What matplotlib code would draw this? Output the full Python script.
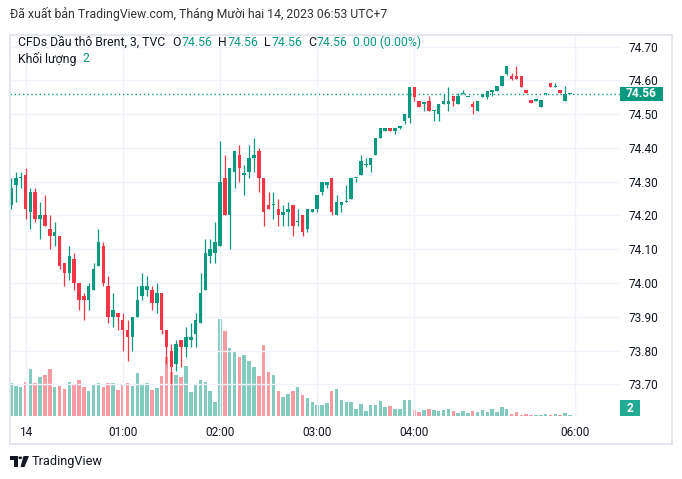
import numpy as np
import matplotlib
matplotlib.use("Agg")
import matplotlib.pyplot as plt
from matplotlib.patches import Rectangle, Circle, Polygon
from matplotlib.lines import Line2D

plt.rcParams['font.family'] = ['Roboto', 'DejaVu Sans']

# ---------------- data (3-minute bars, TVC Brent CFD) ----------------
opens = [74.23, 74.29, 74.31, 74.32, 74.21, 74.27, 74.19, 74.20, 74.16, 74.14,
         74.14, 74.06, 74.03, 74.07, 74.00, 73.96, 73.95, 73.98, 74.05, 74.11,
         73.99, 73.90, 73.91, 73.89, 73.86, 73.84, 73.90, 73.96, 73.98, 73.98,
         73.94, 73.97, 73.86, 73.80, 73.76, 73.83, 73.81, 73.83, 73.85, 73.88,
         73.98, 74.08, 74.09, 74.11, 74.31, 74.20, 74.33, 74.38, 74.32, 74.33,
         74.37, 74.39, 74.31, 74.23, 74.23, 74.22, 74.20, 74.21, 74.23, 74.18,
         74.20, 74.16, 74.21, 74.22, 74.27, 74.29, 74.31, 74.20, 74.23, 74.24,
         74.25, 74.31, 74.32, 74.35, 74.35, 74.38, 74.43, 74.45, 74.46, 74.45,
         74.46, 74.48, 74.49, 74.58, 74.54, 74.53, 74.54, 74.51, 74.50, 74.53,
         74.53, 74.555, 74.53, 74.56, 74.55, 74.53, 74.51, 74.55, 74.55, 74.565,
         74.57, 74.583, 74.62, 74.613, 74.613, 74.613, 74.572, 74.542, 74.54, 74.522,
         74.56, 74.591, 74.581, 74.572, 74.54, 74.56]
highs = [74.31, 74.33, 74.33, 74.34, 74.28, 74.28, 74.24, 74.26, 74.20, 74.18,
         74.14, 74.06, 74.11, 74.09, 74.00, 73.97, 74.00, 74.06, 74.16, 74.12,
         74.02, 73.97, 73.91, 73.91, 73.89, 73.90, 73.99, 74.03, 74.02, 73.99,
         74.00, 73.97, 73.86, 73.82, 73.83, 73.83, 73.87, 73.88, 73.91, 74.03,
         74.13, 74.13, 74.18, 74.42, 74.38, 74.34, 74.39, 74.41, 74.35, 74.41,
         74.43, 74.40, 74.31, 74.27, 74.27, 74.25, 74.23, 74.24, 74.23, 74.22,
         74.20, 74.22, 74.22, 74.26, 74.30, 74.30, 74.31, 74.26, 74.24, 74.29,
         74.31, 74.31, 74.38, 74.37, 74.37, 74.43, 74.46, 74.46, 74.46, 74.46,
         74.462, 74.50, 74.58, 74.58, 74.54, 74.535, 74.555, 74.512, 74.53, 74.56,
         74.58, 74.555, 74.562, 74.572, 74.552, 74.54, 74.54, 74.56, 74.57, 74.572,
         74.583, 74.613, 74.643, 74.621, 74.643, 74.613, 74.572, 74.542, 74.542, 74.542,
         74.562, 74.591, 74.591, 74.572, 74.583, 74.56]
lows = [74.22, 74.24, 74.28, 74.19, 74.16, 74.18, 74.13, 74.17, 74.10, 74.11,
        74.04, 73.99, 74.01, 73.98, 73.92, 73.89, 73.92, 73.98, 74.05, 73.99,
        73.88, 73.87, 73.86, 73.80, 73.77, 73.80, 73.90, 73.95, 73.96, 73.92,
        73.91, 73.85, 73.76, 73.70, 73.74, 73.75, 73.78, 73.81, 73.81, 73.88,
        73.98, 74.06, 74.06, 74.11, 74.20, 74.10, 74.28, 74.30, 74.26, 74.31,
        74.33, 74.27, 74.17, 74.22, 74.19, 74.17, 74.17, 74.17, 74.14, 74.17,
        74.14, 74.15, 74.21, 74.21, 74.26, 74.28, 74.20, 74.20, 74.21, 74.24,
        74.25, 74.30, 74.32, 74.345, 74.33, 74.38, 74.43, 74.45, 74.45, 74.44,
        74.455, 74.47, 74.475, 74.54, 74.52, 74.51, 74.51, 74.48, 74.48, 74.53,
        74.51, 74.525, 74.53, 74.56, 74.55, 74.50, 74.51, 74.55, 74.545, 74.555,
        74.57, 74.583, 74.616, 74.60, 74.603, 74.58, 74.562, 74.532, 74.54, 74.522,
        74.556, 74.581, 74.581, 74.562, 74.54, 74.56]
closes = [74.28, 74.31, 74.313, 74.22, 74.27, 74.19, 74.20, 74.17, 74.14, 74.15,
          74.05, 74.03, 74.08, 74.00, 73.95, 73.95, 73.99, 74.04, 74.12, 74.00,
          73.90, 73.92, 73.90, 73.86, 73.84, 73.90, 73.95, 73.99, 73.99, 73.94,
          73.97, 73.86, 73.81, 73.75, 73.82, 73.81, 73.84, 73.84, 73.89, 73.97,
          74.09, 74.10, 74.12, 74.30, 74.20, 74.34, 74.39, 74.34, 74.325, 74.37,
          74.38, 74.31, 74.21, 74.22, 74.232, 74.20, 74.21, 74.22, 74.17, 74.182,
          74.15, 74.22, 74.22, 74.26, 74.30, 74.30, 74.21, 74.24, 74.24, 74.243,
          74.31, 74.312, 74.36, 74.353, 74.37, 74.43, 74.46, 74.46, 74.45, 74.46,
          74.462, 74.50, 74.58, 74.55, 74.52, 74.535, 74.51, 74.512, 74.53, 74.54,
          74.54, 74.54, 74.555, 74.562, 74.552, 74.52, 74.54, 74.56, 74.57, 74.572,
          74.583, 74.613, 74.643, 74.603, 74.603, 74.581, 74.562, 74.532, 74.542, 74.542,
          74.562, 74.581, 74.583, 74.562, 74.56, 74.56]
volumes = [66, 60, 58, 68, 94, 66, 78, 82, 94, 58,
           60, 54, 68, 62, 72, 58, 50, 62, 66, 58,
           66, 66, 52, 62, 66, 60, 86, 62, 66, 52,
           56, 80, 118, 88, 82, 78, 100, 48, 62, 72,
           68, 50, 28, 194, 170, 136, 130, 118, 122, 110,
           98, 80, 142, 88, 82, 50, 38, 44, 50, 58,
           42, 36, 28, 22, 22, 26, 50, 54, 32, 28,
           28, 14, 24, 10, 22, 22, 30, 18, 20, 14,
           14, 32, 32, 12, 8, 12, 14, 12, 10, 12,
           14, 10, 6, 10, 6, 10, 8, 12, 8, 14,
           8, 18, 14, 4, 8, 2, 4, 2, 2, 2,
           4, 2, 4, 2, 6, 2]
first_bar = -3                      # first bar index relative to 00:00
tick_bars = [0, 20, 40, 60, 80, 113]
tick_labels = ['14', '01:00', '02:00', '03:00', '04:00', '06:00']
price_ticks = [73.70, 73.80, 73.90, 74.00, 74.10, 74.20, 74.30, 74.40, 74.50, 74.60, 74.70]
last_price = 74.56
last_volume = 2

# ---------------- style ----------------
W, H = 682, 479
GREEN = '#089981'
RED = '#f23645'
TXT = '#131722'
GRID = '#f0f3fa'
FS = 8.6

fig = plt.figure(figsize=(W / 100, H / 100), dpi=100)
fig.patch.set_facecolor('white')

def fx(x):
    return x / W

def fy(y):
    return 1 - y / H

pane = [fx(10), fy(416), (620 - 10) / W, (416 - 35) / H]
axv = fig.add_axes(pane)
ax = fig.add_axes(pane)
ax.patch.set_alpha(0)

idx = np.arange(first_bar, first_bar + len(opens))
o = np.array(opens); h = np.array(highs); l = np.array(lows); c = np.array(closes)
v = np.array(volumes)
up = c >= o
cols = np.where(up, GREEN, RED)

# volume
vcols = [(8/255, 153/255, 129/255, 0.5) if u else (242/255, 54/255, 69/255, 0.5) for u in up]
axv.bar(idx, v, width=0.72, color=vcols, linewidth=0)
axv.set_ylim(0, 762)
axv.set_xlim(-3.19, 122.3)
axv.axis('off')

# grid
for t in price_ticks:
    ax.axhline(t, color=GRID, lw=1, zorder=0)
for t in tick_bars:
    ax.axvline(t, color=GRID, lw=1, zorder=0)

# candles
ax.vlines(idx, l, h, colors=cols, lw=0.9, zorder=2)
body_lo = np.minimum(o, c)
body_h = np.maximum(np.abs(c - o), 0.0035)
ax.bar(idx, body_h, bottom=body_lo, width=0.72, color=cols, linewidth=0, zorder=3)

# last price line
ax.axhline(last_price, color=GREEN, lw=1, linestyle=(0, (1, 2)), zorder=1)

ax.set_xlim(-3.19, 122.3)
ax.set_ylim(73.606, 74.7345)
for s in ax.spines.values():
    s.set_visible(False)
ax.yaxis.tick_right()
ax.set_yticks(price_ticks)
ax.set_yticklabels([f'{t:.2f}' for t in price_ticks])
ax.set_xticks(tick_bars)
ax.set_xticklabels(tick_labels)
ax.tick_params(axis='y', length=0, pad=6, labelsize=FS, labelcolor=TXT)
ax.tick_params(axis='x', length=0, pad=7, labelsize=FS, labelcolor=TXT)

# price label box
fig.patches.append(Rectangle((fx(620), fy(101)), 43 / W, 14.5 / H, transform=fig.transFigure,
                             facecolor=GREEN, edgecolor='none', zorder=5))
fig.text(fx(641.5), fy(93.8), f'{last_price:.2f}', color='white', fontsize=FS,
         fontweight='bold', ha='center', va='center', zorder=6)
# volume label box
fig.patches.append(Rectangle((fx(620), fy(416)), 20 / W, 16 / H, transform=fig.transFigure,
                             facecolor='#22ab94', edgecolor='none', zorder=5))
fig.text(fx(630), fy(408), f'{last_volume}', color='white', fontsize=FS,
         fontweight='bold', ha='center', va='center', zorder=6)

# frame
FR = '#e0e3eb'
for (x0, y0, x1, y1) in [(10, 35, 672, 35), (10, 35, 10, 444), (672, 35, 672, 444), (10, 444, 672, 444)]:
    fig.lines.append(Line2D([fx(x0), fx(x1)], [fy(y0), fy(y1)], transform=fig.transFigure,
                            color=FR, lw=1.2))

# header text
fig.text(fx(10), fy(14), 'Đã xuất bản TradingView.com, Tháng Mười hai 14, 2023 06:53 UTC+7',
         fontsize=8.8, color='#333333', ha='left', va='center')

# legend (laid out sequentially using measured text widths)
renderer = fig.canvas.get_renderer()

def seq_text(x, y, pieces):
    for s, col, gap in pieces:
        t = fig.text(fx(x), fy(y), s, fontsize=8.8, color=col, va='center', ha='left')
        bb = t.get_window_extent(renderer=renderer)
        x = x + bb.width + gap

seq_text(18, 42, [('CFDs Dầu thô Brent, 3, TVC', TXT, 7),
                  ('O', TXT, 0.5), (f'{opens[-1]:.2f}', GREEN, 6),
                  ('H', TXT, 0.5), (f'{highs[-1]:.2f}', GREEN, 6),
                  ('L', TXT, 0.5), (f'{lows[-1]:.2f}', GREEN, 6),
                  ('C', TXT, 0.5), (f'{closes[-1]:.2f}', GREEN, 6),
                  ('0.00 (0.00%)', GREEN, 0)])
seq_text(18, 59, [('Khối lượng', TXT, 6), (f'{last_volume}', GREEN, 0)])

# TradingView logo
def pxpoly(pts):
    return [(fx(x), fy(y)) for x, y in pts]
fig.patches.append(Polygon(pxpoly([(10, 456), (17.5, 456), (17.5, 467), (14, 467), (14, 459.5), (10, 459.5)]),
                           closed=True, transform=fig.transFigure, facecolor=TXT, edgecolor='none'))
fig.patches.append(Circle((fx(20.3), fy(457.8)), 1.9 / W, transform=fig.transFigure,
                          facecolor=TXT, edgecolor='none'))
fig.patches.append(Polygon(pxpoly([(23.5, 456), (29, 456), (24.5, 467), (20.5, 467)]),
                           closed=True, transform=fig.transFigure, facecolor=TXT, edgecolor='none'))
fig.text(fx(32), fy(461.5), 'TradingView', fontsize=9.2, color=TXT, va='center')

fig.savefig('out.png', dpi=100, facecolor='white')
